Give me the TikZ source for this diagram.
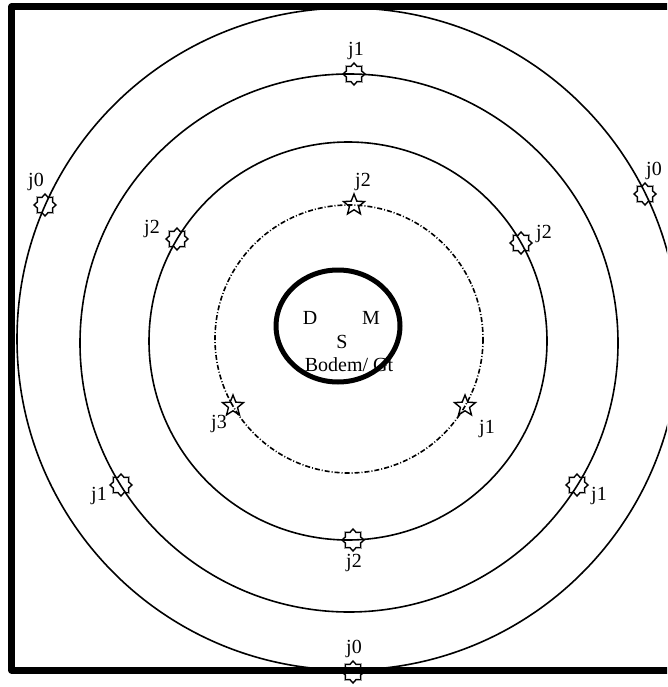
\documentclass[tikz,border=0pt]{standalone}
\usepackage{fontspec}
\setmainfont{Liberation Serif}
\usetikzlibrary{shapes.geometric}

\begin{document}
\begin{tikzpicture}[x=1pt,y=-1pt,
    ring/.style={line width=1.6pt},
    jstar/.style={draw,star,star points=8,star point ratio=1.35,minimum size=22pt,inner sep=0pt,line width=1.4pt},
    pstar/.style={draw,star,star points=5,star point ratio=2.3,minimum size=22pt,inner sep=0pt,line width=1.4pt},
    lbl/.style={font=\fontsize{20}{22}\selectfont,inner sep=0pt}]
    \useasboundingbox (0,0) rectangle (667,687);
    \begin{scope}
    \clip (0,0) rectangle (667,687);

    % Draw the frame (open on the right)
    \draw[line width=7pt,line join=round] (700,7) -- (11.5,7) -- (11.5,670) -- (700,670);

    % Draw the rings
    \draw[ring] (348,339) circle (331);
    \draw[ring] (349,343) circle (269);
    \draw[ring] (348,341) circle (199);
    \draw[ring,dash pattern=on 5pt off 2pt on 1pt off 2pt] (349,339) circle (134);
    \draw[line width=5pt] (338,326) ellipse (62 and 56);
    \end{scope}

    % Centre texts
    \node[lbl] (d) at (310,318) {D};
    \node[lbl] (m) at (371,318) {M};
    \node[lbl] (s) at (342,342) {S};
    \node[lbl] (gt) at (349,365) {Bodem/ Gt};

    % Outer ring
    \node[jstar] (j0l) at (45,205) {};
    \node[lbl] (j0lt) at (36,182) {j0};
    \node[jstar] (j0r) at (645,194) {};
    \node[lbl] (j0rt) at (654,171) {j0};
    \node[jstar] (j0b) at (353,672) {};
    \node[lbl] (j0bt) at (354,649) {j0};

    % Second ring
    \node[jstar] (j1t) at (354,74) {};
    \node[lbl] (j1tt) at (356,51) {j1};
    \node[jstar] (j1l) at (121,485) {};
    \node[lbl] (j1lt) at (99,496) {j1};
    \node[jstar] (j1r) at (577,485) {};
    \node[lbl] (j1rt) at (599,496) {j1};

    % Third ring
    \node[jstar] (j2l) at (177,239) {};
    \node[lbl] (j2lt) at (152,229) {j2};
    \node[jstar] (j2r) at (521,243) {};
    \node[lbl] (j2rt) at (544,234) {j2};
    \node[jstar] (j2b) at (353,540) {};
    \node[lbl] (j2bt) at (354,563) {j2};

    % Dashed ring
    \node[pstar] (j2s) at (354,205) {};
    \node[lbl] (j2st) at (363,182) {j2};
    \node[pstar] (j3s) at (233,406) {};
    \node[lbl] (j3st) at (219,424) {j3};
    \node[pstar] (j1s) at (465,406) {};
    \node[lbl] (j1st) at (487,429) {j1};
\end{tikzpicture}
\end{document}
